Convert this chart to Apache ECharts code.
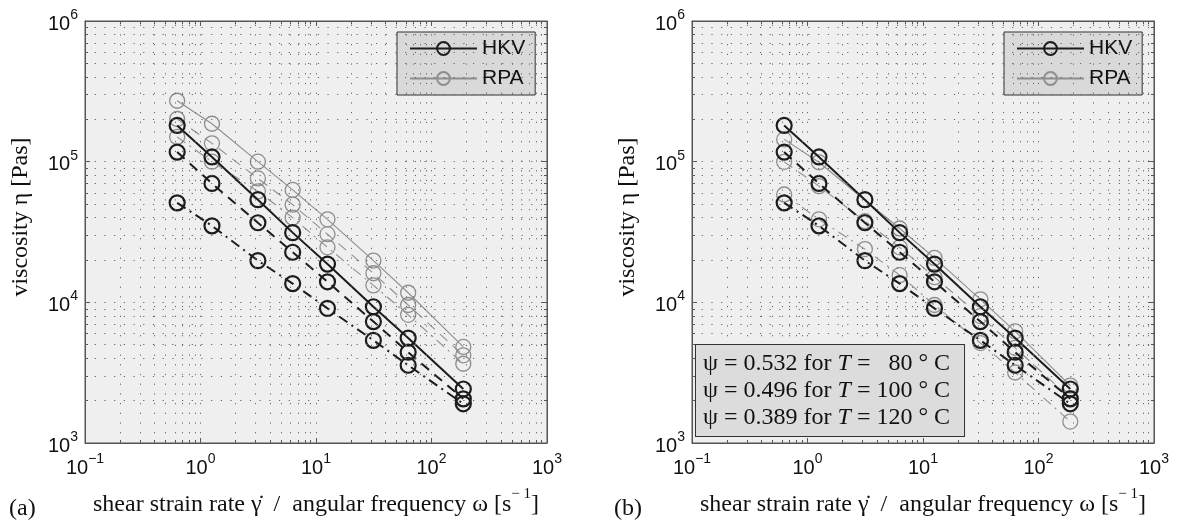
<!DOCTYPE html>
<html>
<head>
<meta charset="utf-8">
<script src="https://cdn.jsdelivr.net/npm/echarts@6/dist/echarts.min.js"></script>
<style>
html, body { margin: 0; padding: 0; background: #fff; }
#main { width: 1177px; height: 522px; }
</style>
</head>
<body>
<div id="main"></div>
<script>
// angular frequency / shear rate [1/s]
var omega = [0.628, 1.257, 3.14, 6.28, 12.57, 31.4, 62.8, 188.5];

// HKV viscosity, same in both panels
var hkv80 = [181000, 108000, 53700, 31300, 18700, 9300, 5570, 2420];
var hkv100 = [117000, 70000, 36800, 22700, 14000, 7300, 4420, 2060];
var hkv120 = [51000, 35000, 19800, 13600, 9060, 5370, 3570, 1900];

// RPA, panel (a)
var rpa80 = [271000, 186000, 100000, 63000, 38900, 19800, 11700, 4820];
var rpa100 = [201000, 135000, 76000, 49500, 30500, 16100, 9570, 4200];
var rpa120 = [150000, 100000, 61500, 40000, 24600, 13200, 8150, 3660];

// RPA, panel (b) (shifted)
var rpa80b = [144000, 99000, 53200, 33500, 20700, 10500, 6220, 2560];
var rpa100b = [99700, 67000, 37700, 24600, 15100, 7990, 4750, 2080];
var rpa120b = [58400, 38900, 23900, 15600, 9570, 5130, 3170, 1420];

var xExp = [-1, 0, 1, 2, 3];
var yExp = [3, 4, 5, 6];
var psiText = [
  ['0.532', '  80'],
  ['0.496', '100'],
  ['0.389', '120']
];

var sans = 'Liberation Sans, Arial, sans-serif';
var serif = 'Liberation Serif, Times New Roman, serif';
var black = '#1c1c1c';
var grey = '#8e8e8e';

function pair(xs, ys) {
  return xs.map(function (x, i) { return [x, ys[i]]; });
}

function powLabel(v) {
  var e = Math.round(Math.log10(v));
  return '{b|10}{s|' + String(e).replace('-', '\u2212') + '}';
}
var powRich = {
  b: { fontSize: 20, fontFamily: sans, color: '#111', padding: [6, 0, 0, 0], verticalAlign: 'bottom' },
  s: { fontSize: 14, fontFamily: sans, color: '#111', padding: [0, 0, 10, 0], verticalAlign: 'top' }
};

// dotted grid at 1..9 x 10^k (interior only)
var gridX = [], gridY = [];
for (var d = -1; d < 3; d++) {
  for (var k = 1; k < 10; k++) {
    if (d === -1 && k === 1) continue;
    gridX.push(+(k * Math.pow(10, d)).toPrecision(3));
  }
}
for (var d2 = 3; d2 < 6; d2++) {
  for (var k2 = 1; k2 < 10; k2++) {
    if (d2 === 3 && k2 === 1) continue;
    gridY.push(k2 * Math.pow(10, d2));
  }
}

var grids = [
  { left: 85, top: 21, width: 462, height: 427, show: true, backgroundColor: '#efefef', borderColor: '#555', borderWidth: 1 },
  { left: 692, top: 21, width: 462, height: 427, show: true, backgroundColor: '#efefef', borderColor: '#555', borderWidth: 1 }
];

var tickStyle = { inside: true, length: 5, lineStyle: { color: '#555' } };
var minorStyle = { show: true, splitNumber: 9, length: 3, lineStyle: { color: '#555' } };

var xAxes = [], yAxes = [];
[0, 1].forEach(function (g) {
  xAxes.push({
    type: 'log', logBase: 10, min: 0.1, max: 1000, gridIndex: g,
    axisLine: { show: true, lineStyle: { color: '#555' } },
    axisTick: tickStyle, minorTick: minorStyle,
    splitLine: { show: false },
    axisLabel: { formatter: powLabel, rich: powRich, margin: 9 },
    name: '{n|shear strain rate \u03B3\u0307  /  angular frequency \u03C9 [s}{s|\u2212 1}{n|]}',
    nameLocation: 'middle', nameGap: 44,
    nameTextStyle: {
      rich: {
        n: { fontSize: 24, fontFamily: serif, color: '#111', padding: [6, 0, 0, 0], verticalAlign: 'bottom' },
        s: { fontSize: 15, fontFamily: serif, color: '#111', padding: [0, 0, 12, 0], verticalAlign: 'top' }
      }
    }
  });
  xAxes.push({
    type: 'log', logBase: 10, min: 0.1, max: 1000, gridIndex: g, position: 'top',
    axisLine: { show: true, lineStyle: { color: '#555' } },
    axisTick: tickStyle, minorTick: minorStyle,
    splitLine: { show: false }, axisLabel: { show: false }
  });
  yAxes.push({
    type: 'log', logBase: 10, min: 1000, max: 1000000, gridIndex: g,
    axisLine: { show: true, lineStyle: { color: '#555' } },
    axisTick: tickStyle, minorTick: minorStyle,
    splitLine: { show: false },
    axisLabel: { formatter: powLabel, rich: powRich, margin: 7 },
    name: 'viscosity \u03B7 [Pas]', nameLocation: 'middle', nameGap: 52, nameRotate: 90,
    nameTextStyle: { fontSize: 24, fontFamily: serif, color: '#111', padding: [0, 0, 0, 30] }
  });
  yAxes.push({
    type: 'log', logBase: 10, min: 1000, max: 1000000, gridIndex: g, position: 'right',
    axisLine: { show: true, lineStyle: { color: '#555' } },
    axisTick: tickStyle, minorTick: minorStyle,
    splitLine: { show: false }, axisLabel: { show: false }
  });
});

function mk(name, ys, g, color, width, type, z) {
  return {
    name: name, type: 'line', data: pair(omega, ys),
    xAxisIndex: g * 2, yAxisIndex: g * 2, z: z,
    symbol: 'circle', symbolSize: 15,
    lineStyle: { color: color, width: width, type: type },
    itemStyle: { color: 'rgba(0,0,0,0)', borderColor: color, borderWidth: width + 0.2 },
    emphasis: { disabled: true }
  };
}

var dashed = [10, 7];
var dashDot = [10, 5, 2, 5];

var series = [];
[0, 1].forEach(function (g) {
  series.push(mk('HKV', hkv80, g, black, 2, 'solid', 4));
  series.push(mk('HKV', hkv100, g, black, 2, dashed, 4));
  series.push(mk('HKV', hkv120, g, black, 2, dashDot, 4));
  var r = g === 0 ? [rpa80, rpa100, rpa120] : [rpa80b, rpa100b, rpa120b];
  series.push(mk('RPA', r[0], g, grey, 1.1, 'solid', 3));
  series.push(mk('RPA', r[1], g, grey, 1.1, dashed, 3));
  series.push(mk('RPA', r[2], g, grey, 1.1, dashDot, 3));
  // dotted grid
  series.push({
    type: 'line', data: [], xAxisIndex: g * 2, yAxisIndex: g * 2, silent: true, z: 1,
    markLine: {
      silent: true, symbol: 'none', label: { show: false },
      lineStyle: { color: '#666', width: 1, type: [1.2, 8.5] },
      emphasis: { disabled: true },
      data: gridX.map(function (v) { return { xAxis: v }; })
        .concat(gridY.map(function (v) { return { yAxis: v }; }))
    }
  });
});

function legendAt(left) {
  return {
    left: left, top: 32, orient: 'vertical', data: ['HKV', 'RPA'],
    backgroundColor: '#d9d9d9', borderColor: '#333', borderWidth: 1, borderRadius: 0,
    padding: [6, 10, 6, 12], itemWidth: 67, itemHeight: 16, itemGap: 9,
    textStyle: { fontSize: 21, fontFamily: sans, color: '#111' },
    selectedMode: false
  };
}

var boxText = psiText.map(function (p) {
  return '{n|\u03C8 = ' + p[0] + ' for }{i|T}{n| = ' + p[1] + ' \u00B0 C}';
}).join('\n');

var option = {
  backgroundColor: '#fff',
  animation: false,
  grid: grids,
  xAxis: xAxes,
  yAxis: yAxes,
  legend: [legendAt(397), legendAt(1004)],
  series: series,
  graphic: [
    { type: 'text', left: 9, top: 497, style: { text: '(a)', font: '24px ' + serif, fill: '#111' } },
    { type: 'text', left: 614, top: 497, style: { text: '(b)', font: '24px ' + serif, fill: '#111' } },
    {
      type: 'text', left: 695, top: 344, z: 10,
      style: {
        text: boxText,
        backgroundColor: '#dcdcdc', borderColor: '#333', borderWidth: 1,
        padding: [5, 14, 5, 7],
        rich: {
          n: { fontSize: 24, fontFamily: serif, fill: '#111', lineHeight: 27 },
          i: { fontSize: 24, fontFamily: serif, fontStyle: 'italic', fill: '#111', lineHeight: 27 }
        }
      }
    }
  ]
};

var chart = echarts.init(document.getElementById('main'));
chart.setOption(option);
</script>
</body>
</html>
